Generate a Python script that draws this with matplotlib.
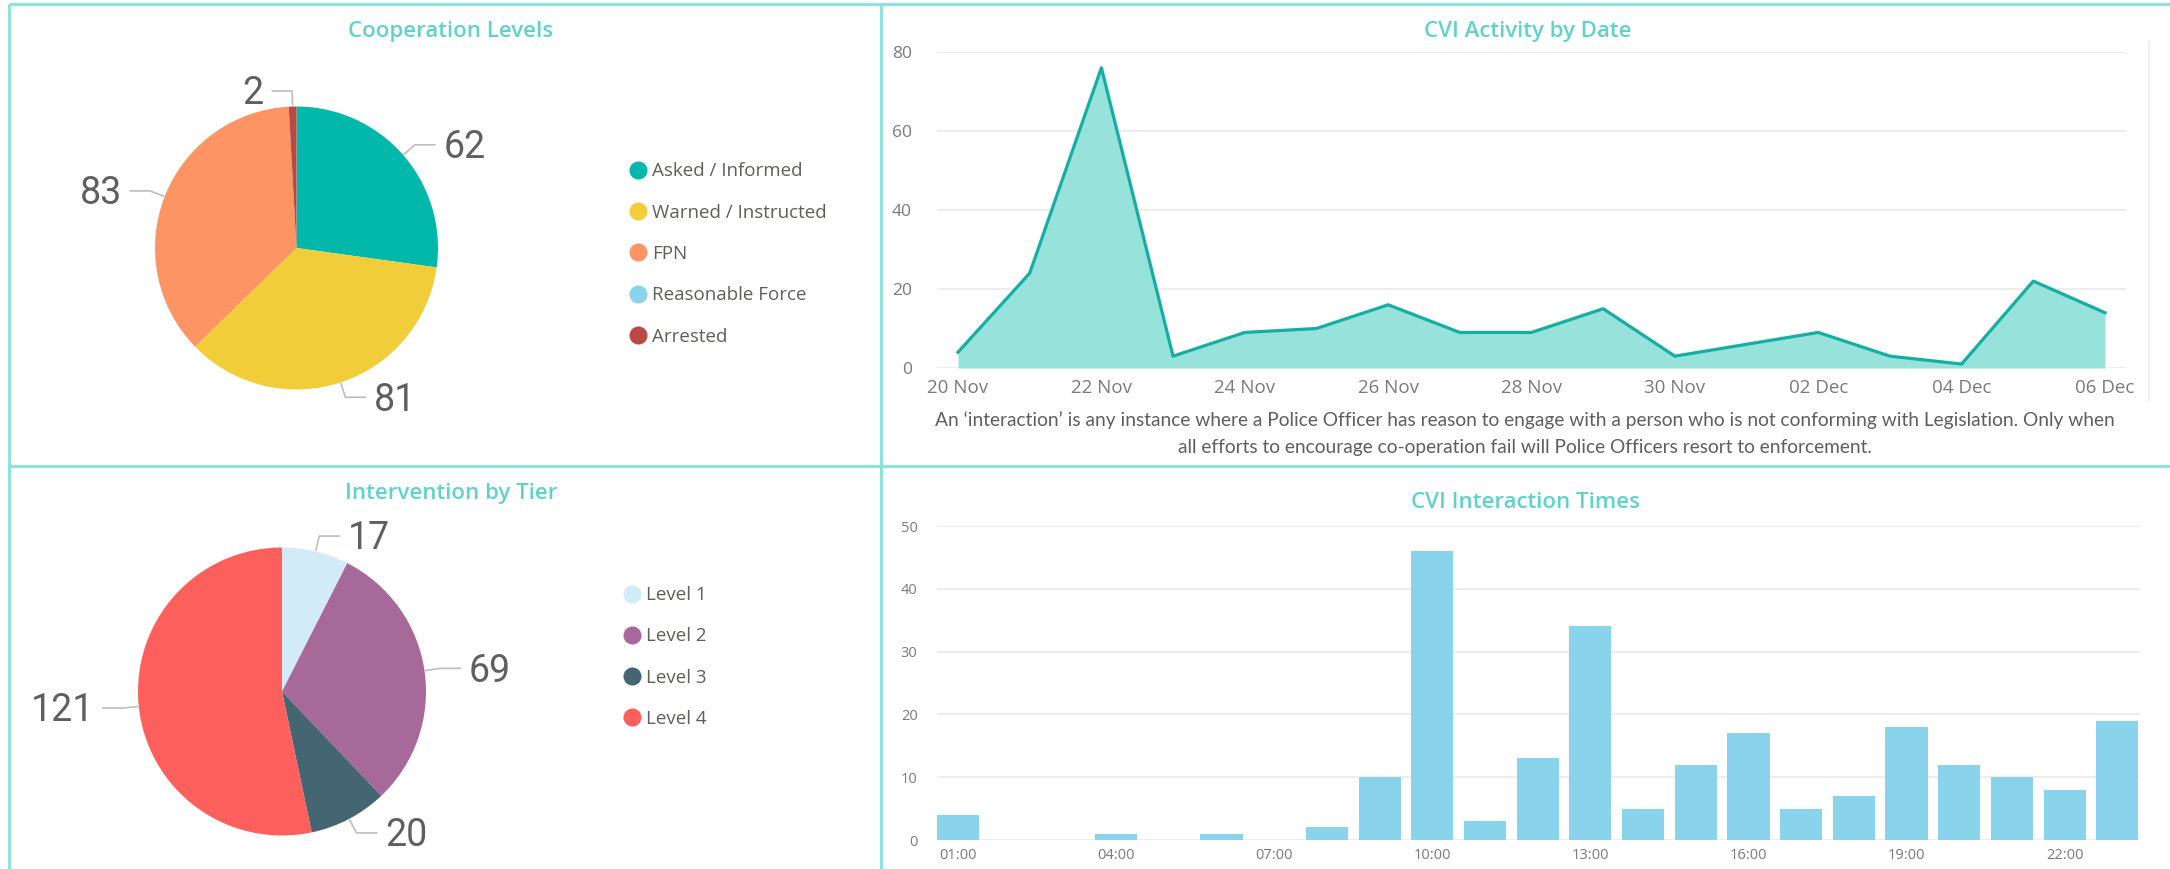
import numpy as np
import pandas as pd
import matplotlib
matplotlib.use("Agg")
import matplotlib.pyplot as plt
import matplotlib.dates as mdates
from matplotlib.lines import Line2D

W, H = 2170, 869

# cooperation levels (top-left pie)
coop_labels = ["Asked / Informed", "Warned / Instructed", "FPN", "Reasonable Force", "Arrested"]
coop_values = [62, 81, 83, 0, 2]
coop_colors = ["#01B8AA", "#F2CD3A", "#FD9464", "#8AD4EB", "#BC4845"]

# intervention by tier (bottom-left pie)
tier_labels = ["Level 1", "Level 2", "Level 3", "Level 4"]
tier_values = [17, 69, 20, 121]
tier_colors = ["#D1ECF6", "#A66999", "#436672", "#FD605C"]

# CVI activity by date (area chart)
dates = pd.date_range("2020-11-20", "2020-12-06", freq="D")
daily = [4, 24, 76, 3, 9, 10, 16, 9, 9, 15, 3, 6, 9, 3, 1, 22, 14]

# CVI interaction times (bar chart)
hours = ["01:00", "02:00", "03:00", "04:00", "05:00", "06:00", "07:00", "08:00",
         "09:00", "10:00", "11:00", "12:00", "13:00", "14:00", "15:00", "16:00",
         "17:00", "18:00", "19:00", "20:00", "21:00", "22:00", "23:00"]
hour_counts = [4, 0, 0, 1, 0, 1, 0, 2, 10, 46, 3, 13, 34, 5, 12, 17, 5, 7, 18, 12, 10, 8, 19]

caption = ["An \u2018interaction\u2019 is any instance where a Police Officer has reason to engage with a person who is not conforming with Legislation. Only when",
           "all efforts to encourage co-operation fail will Police Officers resort to enforcement."]

TITLE_C = "#5FD3C9"
BORDER_C = "#90E1D9"
TEXT_C = "#605E5C"
UI = ["Open Sans", "DejaVu Sans"]
NUM = ["Roboto", "DejaVu Sans"]

fig = plt.figure(figsize=(W / 100, H / 100), dpi=100)
fig.patch.set_facecolor("white")


def px_axes(left, top, right, bottom):
    return fig.add_axes([left / W, 1 - bottom / H, (right - left) / W, (bottom - top) / H])


def fline(xs, ys, **kw):
    fig.add_artist(Line2D([x / W for x in xs], [1 - y / H for y in ys],
                          transform=fig.transFigure, **kw))


def title(x, y, s):
    fig.text(x / W, 1 - y / H, s, ha="center", va="center", color=TITLE_C,
             fontsize=16, fontweight="semibold", family=UI)


def draw_pie(cx, cy, r, values, colors, labels, lx, ly):
    L = 1.6
    ax = px_axes(cx - L * r, cy - L * r, cx + L * r, cy + L * r)
    wedges, _ = ax.pie(values, colors=colors, startangle=90, counterclock=False,
                       radius=1, wedgeprops=dict(linewidth=0))
    ax.set_xlim(-L, L)
    ax.set_ylim(-L, L)
    ax.set_aspect("equal")
    ax.axis("off")
    for w, v in zip(wedges, values):
        if v == 0:
            continue
        a = np.deg2rad((w.theta1 + w.theta2) / 2)
        x, y = np.cos(a), np.sin(a)
        ex, ey = 1.11 * x, 1.11 * y
        side = 1 if x >= 0 else -1
        hx = ex + side * 0.14
        ax.plot([1.01 * x, ex, hx], [1.01 * y, ey, ey], color="#BDBDBD", lw=1.2, clip_on=False)
        ax.text(hx + side * 0.06, ey - 0.02, str(v), ha="left" if side > 0 else "right",
                va="center", fontsize=27, fontweight="normal", color="#5F5F5F", family=NUM)
    handles = [Line2D([], [], marker="o", ls="", markersize=13, markerfacecolor=c,
                      markeredgewidth=0) for c in colors]
    fig.legend(handles, labels, loc="center left", bbox_to_anchor=(lx / W, 1 - ly / H),
               frameon=False, borderpad=0, borderaxespad=0, handlelength=1.0,
               handletextpad=0.25, labelspacing=1.24, labelcolor=TEXT_C,
               prop=dict(family=UI, size=13.5))


# panel borders
bk = dict(color=BORDER_C, lw=2.3, solid_capstyle="butt")
fline([9, W], [4, 4], **bk)
fline([9, 9], [4, H], **bk)
fline([881, 881], [4, H], **bk)
fline([9, W], [466, 466], **bk)

# pies
title(451, 32, "Cooperation Levels")
draw_pie(296.5, 248, 141.5, coop_values, coop_colors, coop_labels, 629, 254)
title(451, 493, "Intervention by Tier")
draw_pie(282, 691.5, 144, tier_values, tier_colors, tier_labels, 623, 657)

# area chart
title(1528, 32, "CVI Activity by Date")
ax = px_axes(937, 52, 2126, 368)
ax.fill_between(dates, daily, color="#97E2DA", lw=0)
ax.plot(dates, daily, color="#14AFA2", lw=2.3)
pad = pd.Timedelta(days=0.293)
ax.set_xlim(dates[0] - pad, dates[-1] + pad)
ax.set_ylim(0, 80)
ax.set_yticks([0, 20, 40, 60, 80])
ax.set_xticks(dates[::2])
ax.xaxis.set_major_formatter(mdates.DateFormatter("%d %b"))
ax.grid(axis="y", color="#EDEDED", lw=1.5)
ax.set_axisbelow(True)
for s in ax.spines.values():
    s.set_visible(False)
ax.tick_params(length=0, colors="#7A7A7A", labelsize=13)
ax.tick_params(axis="x", pad=8, labelsize=13.5)
ax.tick_params(axis="y", pad=18, labelsize=12.5)
for t in ax.get_xticklabels() + ax.get_yticklabels():
    t.set_family(UI)
fline([2149, 2149], [42, 400], color="#EFEFEF", lw=1.5)

for i, line in enumerate(caption):
    fig.text(1525 / W, 1 - (420 + 27 * i) / H, line, ha="center", va="center",
             color="#5E5E5E", fontsize=13.8, family=["Lato", "DejaVu Sans"])

# bar chart
title(1525, 502, "CVI Interaction Times")
bx = px_axes(937, 526, 2140, 840)
xs = np.arange(len(hours))
bx.bar(xs, hour_counts, width=0.8, color="#8AD4EB")
bx.set_xlim(-0.4, len(hours) - 1 + 0.43)
bx.set_ylim(0, 50)
bx.set_yticks([0, 10, 20, 30, 40, 50])
bx.set_xticks(xs[::3])
bx.set_xticklabels(hours[::3])
bx.grid(axis="y", color="#EDEDED", lw=1.5)
bx.set_axisbelow(True)
for s in bx.spines.values():
    s.set_visible(False)
bx.tick_params(length=0, colors="#7A7A7A", labelsize=10.5)
bx.tick_params(axis="x", pad=6)
bx.tick_params(axis="y", pad=14)
for t in bx.get_xticklabels() + bx.get_yticklabels():
    t.set_family(UI)

fig.savefig("out.png", dpi=100, facecolor="white")
